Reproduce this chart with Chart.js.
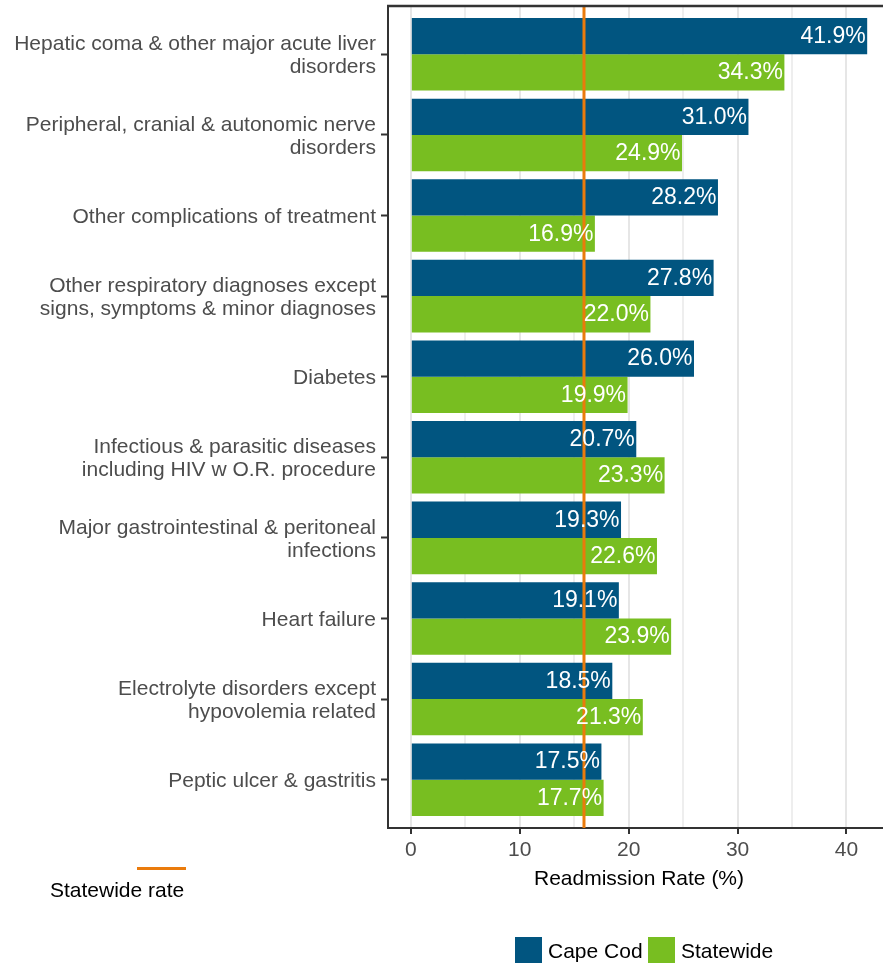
<!DOCTYPE html>
<html>
<head>
<meta charset="utf-8">
<script src="https://cdn.jsdelivr.net/npm/chart.js@4.4.0/dist/chart.umd.min.js"></script>
<style>
	html, body { margin: 0; padding: 0; overflow: hidden; background: #fff; }
	#wrap { position: relative; width: 883px; height: 963px; overflow: hidden; }
	canvas { position: absolute; left: 0; top: 0; }
	.lg { position: absolute; font-family: "Liberation Sans", Arial, sans-serif; font-size: 21px; line-height: 26px; color: #000; white-space: nowrap; }
	.box { position: absolute; width: 27px; height: 26px; }
</style>
</head>
<body>
<div id="wrap">
	<canvas id="chartReadmision" width="890" height="963"></canvas>
	<div style="position:absolute;left:137px;top:867px;width:49px;height:2.5px;background:#ea7b0c"></div>
	<div class="lg" style="left:50px;top:876.5px">Statewide rate</div>
	<div class="box" style="left:515px;top:937px;background:#015580"></div>
	<div class="lg" style="left:548px;top:937.5px">Cape Cod</div>
	<div class="box" style="left:648px;top:937px;background:#78be21"></div>
	<div class="lg" style="left:681px;top:937.5px">Statewide</div>
</div>
<script>
const categorias = [
	["Hepatic coma & other major acute liver", "disorders"],
	["Peripheral, cranial & autonomic nerve", "disorders"],
	"Other complications of treatment",
	["Other respiratory diagnoses except", "signs, symptoms & minor diagnoses"],
	"Diabetes",
	["Infectious & parasitic diseases", "including HIV w O.R. procedure"],
	["Major gastrointestinal & peritoneal", "infections"],
	"Heart failure",
	["Electrolyte disorders except", "hypovolemia related"],
	"Peptic ulcer & gastritis",
];
const capeCod = [41.9, 31.0, 28.2, 27.8, 26.0, 20.7, 19.3, 19.1, 18.5, 17.5];
const statewide = [34.3, 24.9, 16.9, 22.0, 19.9, 23.3, 22.6, 23.9, 21.3, 17.7];
const statewideRate = 15.9;
const ticksMayores = [0, 10, 20, 30, 40];
const ticksMenores = [5, 15, 25, 35];

const fuente = '"Liberation Sans", Arial, sans-serif';
const yMin = -0.6;
const yMax = categorias.length - 1 + 0.6;
const xMin = -0.05 * 41.9;
const xMax = 41.9 * 1.05;

/* etiquetas blancas dentro de cada barra + borde superior del panel */
const etiquetasBarras = {
	id: "etiquetasBarras",
	afterDatasetsDraw(chart) {
		const ctx = chart.ctx;
		ctx.save();
		ctx.font = "23px " + fuente;
		ctx.fillStyle = "#ffffff";
		ctx.textAlign = "right";
		ctx.textBaseline = "middle";
		chart.data.datasets.forEach((ds, i) => {
			if (ds.type === "line") return;
			chart.getDatasetMeta(i).data.forEach((bar, j) => {
				ctx.fillText(ds.data[j].x.toFixed(1) + "%", bar.x - 1.5, bar.y + 0.5);
			});
		});
		ctx.restore();
	},
	afterDraw(chart) {
		const a = chart.chartArea;
		const ctx = chart.ctx;
		ctx.save();
		ctx.strokeStyle = "#333333";
		ctx.lineWidth = 2.5;
		ctx.beginPath();
		ctx.moveTo(a.left - 1, a.top);
		ctx.lineTo(a.right, a.top);
		ctx.stroke();
		ctx.restore();
	},
};

const ctx = document.getElementById("chartReadmision").getContext("2d");

new Chart(ctx, {
	type: "bar",
	data: {
		datasets: [
			{
				type: "line",
				label: "Statewide rate",
				data: [{ x: statewideRate, y: yMin }, { x: statewideRate, y: yMax }],
				borderColor: "#ea7b0c",
				borderWidth: 3,
				pointRadius: 0,
				order: -1,
			},
			{
				label: "Cape Cod",
				data: capeCod.map((v, i) => ({ x: v, y: i })),
				backgroundColor: "#015580",
				borderWidth: 0,
			},
			{
				label: "Statewide",
				data: statewide.map((v, i) => ({ x: v, y: i })),
				backgroundColor: "#78be21",
				borderWidth: 0,
			},
		],
	},
	plugins: [etiquetasBarras],
	options: {
		responsive: false,
		animation: false,
		indexAxis: "y",
		categoryPercentage: 0.9,
		barPercentage: 1.0,
		layout: { padding: { top: 6, bottom: 67.4, left: 0, right: 0 } },
		plugins: {
			legend: { display: false },
			tooltip: { enabled: false },
		},
		scales: {
			y: {
				type: "linear",
				reverse: true,
				offset: false,
				min: yMin,
				max: yMax,
				afterBuildTicks: (axis) => {
					axis.ticks = categorias.map((_, i) => ({ value: i }));
				},
				afterFit: (axis) => {
					axis.width = 388;
					axis.paddingTop = 0;
					axis.paddingBottom = 0;
				},
				ticks: {
					autoSkip: false,
					padding: 5,
					labelOffset: 1.5,
					color: "#4d4d4d",
					font: { size: 21, family: fuente, lineHeight: 1.095 },
					callback: (v) => categorias[v],
				},
				grid: {
					offset: false,
					drawOnChartArea: false,
					drawTicks: true,
					tickLength: 7,
					tickColor: "#333333",
					tickWidth: 2,
				},
				border: { display: true, color: "#333333", width: 2 },
			},
			x: {
				type: "linear",
				min: xMin,
				max: xMax,
				afterBuildTicks: (axis) => {
					axis.ticks = ticksMayores.concat(ticksMenores).sort((a, b) => a - b).map((v) => ({ value: v }));
				},
				afterFit: (axis) => {
					axis.height = 67.6;
					axis.paddingLeft = 0;
					axis.paddingRight = 0;
				},
				ticks: {
					autoSkip: false,
					maxRotation: 0,
					padding: 4,
					color: "#4d4d4d",
					font: { size: 21, family: fuente },
					callback: (v) => (ticksMayores.includes(v) ? String(v) : ""),
				},
				grid: {
					color: (c) => (c.tick && ticksMayores.includes(c.tick.value) ? "#e6e6e6" : "#eeeeee"),
					lineWidth: 2,
					drawTicks: true,
					tickLength: 6,
					tickWidth: 2,
					tickColor: (c) => (c.tick && ticksMayores.includes(c.tick.value) ? "#333333" : "rgba(0,0,0,0)"),
				},
				border: { display: true, color: "#333333", width: 2 },
				title: {
					display: true,
					text: "Readmission Rate (%)",
					color: "#000000",
					font: { size: 21, family: fuente },
					padding: { top: 0, bottom: 4 },
				},
			},
		},
	},
});
</script>
</body>
</html>
